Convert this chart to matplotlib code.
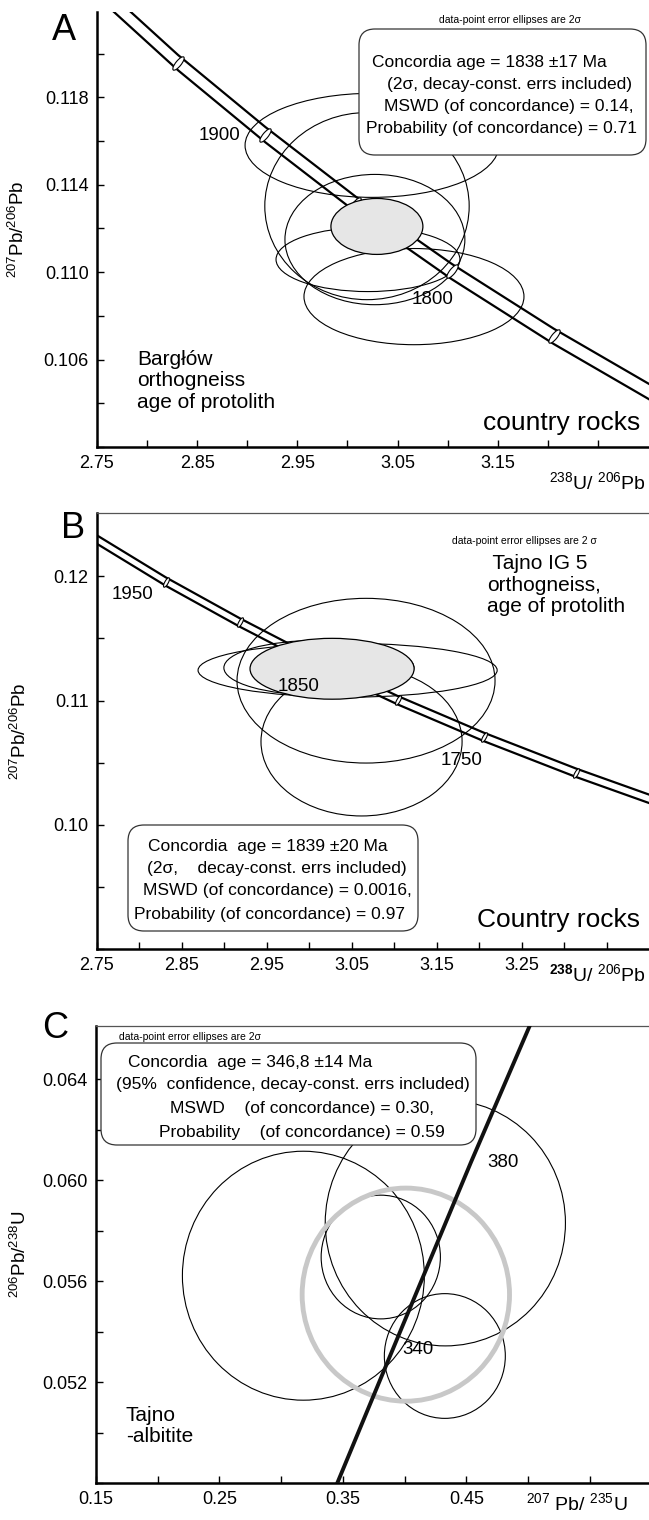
import matplotlib
matplotlib.use("Agg")
import matplotlib.pyplot as plt
from matplotlib.patches import Ellipse, FancyBboxPatch
from matplotlib.markers import MarkerStyle
from matplotlib.path import Path
from matplotlib.transforms import Affine2D

plt.rcParams["font.family"] = ["Liberation Sans", "DejaVu Sans"]
plt.rcParams["mathtext.fontset"] = "custom"
plt.rcParams["mathtext.rm"] = "Liberation Sans"
plt.rcParams["mathtext.it"] = "Liberation Sans:italic"
plt.rcParams["mathtext.bf"] = "Liberation Sans:bold"

# ---------------- A: Bargłów orthogneiss (Tera-Wasserburg) ----------------
a_conc_age = [2000, 1950, 1900, 1850, 1800, 1750, 1700]
a_conc_x = [2.749, 2.831, 2.918, 3.008, 3.104, 3.206, 3.314]
a_conc_y = [0.1230, 0.11958, 0.11629, 0.11311, 0.11003, 0.10706, 0.10419]
a_band = 0.00035
a_marked = [1950, 1900, 1850, 1800, 1750]
a_age_labels = [1900, 1800]
a_label_x = [2.872, 3.085]
a_label_y = [0.11623, 0.10874]

a_ell_x = [3.0245, 3.0195, 3.0274, 3.0205, 3.0664]
a_ell_y = [0.1158, 0.11302, 0.11149, 0.11058, 0.10888]
a_ell_sx = [0.1267, 0.1020, 0.0898, 0.0918, 0.1098]
a_ell_sy = [0.00238, 0.00428, 0.00298, 0.00147, 0.0022]
a_age = (3.0294, 0.11209, 0.0459, 0.00128)

a_xticks = [2.75, 2.80, 2.85, 2.90, 2.95, 3.00, 3.05, 3.10, 3.15, 3.20, 3.25]
a_xticklabels = ["2.75", "", "2.85", "", "2.95", "", "3.05", "", "3.15", "", ""]
a_yticks = [0.102, 0.104, 0.106, 0.108, 0.110, 0.112, 0.114, 0.116, 0.118, 0.120]
a_yticklabels = ["", "", "0.106", "", "0.110", "", "0.114", "", "0.118", ""]

# ---------------- B: Tajno IG 5 orthogneiss (Tera-Wasserburg) ----------------
b_conc_age = [2000, 1950, 1900, 1850, 1800, 1750, 1700, 1650]
b_conc_x = [2.749, 2.831, 2.918, 3.008, 3.104, 3.206, 3.314, 3.428]
b_conc_y = [0.1230, 0.11958, 0.11629, 0.11311, 0.11003, 0.10706, 0.10419, 0.10141]
b_band = 0.00034
b_marked = [1950, 1900, 1850, 1800, 1750, 1700]
b_age_labels = [1950, 1850, 1750]
b_label_x = [2.792, 2.987, 3.179]
b_label_y = [0.1185, 0.1111, 0.1052]

b_ell_x = [3.0668, 3.0615, 3.0451, 3.0113]
b_ell_y = [0.1116, 0.1067, 0.11244, 0.11264]
b_ell_sx = [0.1519, 0.1184, 0.1761, 0.1119]
b_ell_sy = [0.00663, 0.00599, 0.00217, 0.00221]
b_age = (3.0268, 0.11256, 0.0966, 0.00245)

b_xticks = [2.75, 2.80, 2.85, 2.90, 2.95, 3.00, 3.05, 3.10, 3.15, 3.20, 3.25, 3.30, 3.35]
b_xticklabels = ["2.75", "", "2.85", "", "2.95", "", "3.05", "", "3.15", "", "3.25", "", ""]
b_yticks = [0.090, 0.095, 0.100, 0.105, 0.110, 0.115, 0.120]
b_yticklabels = ["", "", "0.10", "", "0.11", "", "0.12"]

# ---------------- C: Tajno albitite (Wetherill) ----------------
c_conc_x = [0.3455, 0.3978, 0.4539, 0.5013]
c_conc_y = [0.0480, 0.05416, 0.06072, 0.0661]
c_age_labels = [340, 380]
c_label_x = [0.411, 0.480]
c_label_y = [0.0533, 0.0607]

c_ell_x = [0.318, 0.433, 0.3807, 0.4326]
c_ell_y = [0.05621, 0.0583, 0.05695, 0.05303]
c_ell_sx = [0.098, 0.0973, 0.0483, 0.049]
c_ell_sy = [0.00493, 0.00487, 0.00245, 0.00247]
c_age = (0.401, 0.05546, 0.084, 0.00422)

c_xticks = [0.15, 0.20, 0.25, 0.30, 0.35, 0.40, 0.45, 0.50, 0.55]
c_xticklabels = ["0.15", "", "0.25", "", "0.35", "", "0.45", "", ""]
c_yticks = [0.048, 0.050, 0.052, 0.054, 0.056, 0.058, 0.060, 0.062, 0.064]
c_yticklabels = ["", "", "0.052", "", "0.056", "", "0.060", "", "0.064"]

W, H = 649, 1520
fig = plt.figure(figsize=(W / 100, H / 100), dpi=100)


def px_axes(left, top, right, bottom):
    return fig.add_axes([left / W, 1 - bottom / H, (right - left) / W, (bottom - top) / H])


def ptext(px, py, s, **kw):
    fig.text(px / W, 1 - py / H, s, **kw)


def style(ax, xt, xl, yt, yl, top_spine):
    ax.set_xticks(xt)
    ax.set_xticklabels(xl)
    ax.set_yticks(yt)
    ax.set_yticklabels(yl)
    ax.tick_params(direction="in", length=5, width=1.0, labelsize=13, pad=6)
    ax.spines["right"].set_visible(False)
    ax.spines["top"].set_visible(top_spine)
    ax.spines["top"].set_linewidth(0.9)
    ax.spines["top"].set_color("#555555")
    for s in ("left", "bottom"):
        ax.spines[s].set_linewidth(1.8)


def draw_ellipses(ax, xs, ys, sxs, sys_):
    for x, y, sx, sy in zip(xs, ys, sxs, sys_):
        ax.add_patch(Ellipse((x, y), 2 * sx, 2 * sy, fill=False, ec="black", lw=0.8, zorder=2))


def draw_band(ax, xs, ys, dy, ages, marked, msize, tilt):
    # two envelope lines of the concordia band plus small age markers across it
    ax.plot(xs, [y + dy for y in ys], color="black", lw=1.6, zorder=3)
    ax.plot(xs, [y - dy for y in ys], color="black", lw=1.6, zorder=3)
    tick = MarkerStyle(Path.unit_circle().transformed(Affine2D().scale(0.33, 1.0).rotate_deg(tilt)))
    mx = [x for a, x in zip(ages, xs) if a in marked]
    my = [y for a, y in zip(ages, ys) if a in marked]
    ax.plot(mx, my, ls="none", marker=tick, markersize=msize, mfc="white", mec="black",
            mew=0.8, zorder=4)


def rbox(ax, left, top, right, bottom):
    box = FancyBboxPatch((left / 100, (H - bottom) / 100), (right - left) / 100, (bottom - top) / 100,
                         boxstyle="round,pad=0,rounding_size=0.16", transform=fig.dpi_scale_trans,
                         fc="white", ec="#333333", lw=0.9, zorder=6, clip_on=False)
    ax.add_patch(box)


# ----- panel A -----
axA = px_axes(97, 12, 649, 447)
axA.set_xlim(2.75, 3.301)
axA.set_ylim(0.102, 0.1219)
style(axA, a_xticks, a_xticklabels, a_yticks, a_yticklabels, False)
draw_ellipses(axA, a_ell_x, a_ell_y, a_ell_sx, a_ell_sy)
draw_band(axA, a_conc_x, a_conc_y, a_band, a_conc_age, a_marked, 10, -39)
axA.add_patch(Ellipse(a_age[:2], 2 * a_age[2], 2 * a_age[3], fc="#e6e6e6", ec="black", lw=0.9, zorder=5))
for lab, x, y in zip(a_age_labels, a_label_x, a_label_y):
    axA.text(x, y, str(lab), fontsize=13.5, ha="center", va="center", zorder=7)
rbox(axA, 359, 29, 646, 155)
ptext(510, 20, "data-point error ellipses are 2σ", fontsize=7.5, ha="center", va="center")
ptext(489, 62, "Concordia age = 1838 ±17 Ma", fontsize=12.5, ha="center", va="center", zorder=8)
ptext(510, 84, "(2σ, decay-const. errs included)", fontsize=12.5, ha="center", va="center", zorder=8)
ptext(509, 106, "MSWD (of concordance) = 0.14,", fontsize=12.5, ha="center", va="center", zorder=8)
ptext(502, 129, "Probability (of concordance) = 0.71", fontsize=12.5, ha="center", va="center", zorder=8)
ptext(137, 381, "Bargłów\northogneiss\nage of protolith", fontsize=15, ha="left", va="center",
      linespacing=1.15)
ptext(640, 423, "country rocks", fontsize=19, ha="right", va="center")
ptext(64, 31, "A", fontsize=26, ha="center", va="center")
ptext(18, 229, "$^{207}$Pb/$^{206}$Pb", fontsize=13.5, rotation=90, ha="center", va="center")
ptext(646, 482, "$^{238}$U/ $^{206}$Pb", fontsize=14, ha="right", va="center")

# ----- panel B -----
axB = px_axes(97, 513, 649, 949)
axB.set_xlim(2.75, 3.40)
axB.set_ylim(0.09, 0.1251)
style(axB, b_xticks, b_xticklabels, b_yticks, b_yticklabels, True)
draw_ellipses(axB, b_ell_x, b_ell_y, b_ell_sx, b_ell_sy)
draw_band(axB, b_conc_x, b_conc_y, b_band, b_conc_age, b_marked, 7, -29)
axB.add_patch(Ellipse(b_age[:2], 2 * b_age[2], 2 * b_age[3], fc="#e6e6e6", ec="black", lw=0.9, zorder=5))
for lab, x, y in zip(b_age_labels, b_label_x, b_label_y):
    axB.text(x, y, str(lab), fontsize=13.5, ha="center", va="center", zorder=7)
ptext(524, 541, "data-point error ellipses are 2 σ", fontsize=7.5, ha="center", va="center")
ptext(487, 585, " Tajno IG 5\northogneiss,\nage of protolith", fontsize=15, ha="left", va="center",
      linespacing=1.15)
rbox(axB, 128, 825, 418, 931)
ptext(268, 846, "Concordia  age = 1839 ±20 Ma", fontsize=12.5, ha="center", va="center", zorder=8)
ptext(277, 868, "(2σ,    decay-const. errs included)", fontsize=12.5, ha="center", va="center", zorder=8)
ptext(277, 891, "MSWD (of concordance) = 0.0016,", fontsize=12.5, ha="center", va="center", zorder=8)
ptext(269, 914, "Probability (of concordance) = 0.97", fontsize=12.5, ha="center", va="center", zorder=8)
ptext(640, 920, "Country rocks", fontsize=19, ha="right", va="center")
ptext(73, 528, "B", fontsize=26, ha="center", va="center")
ptext(20, 731, "$^{207}$Pb/$^{206}$Pb", fontsize=13.5, rotation=90, ha="center", va="center")
ptext(646, 974, r"$^{\mathbf{238}}$U/ $^{206}$Pb", fontsize=14, ha="right", va="center")

# ----- panel C -----
axC = px_axes(96, 1026, 649, 1483)
axC.set_xlim(0.15, 0.598)
axC.set_ylim(0.048, 0.0661)
style(axC, c_xticks, c_xticklabels, c_yticks, c_yticklabels, True)
draw_ellipses(axC, c_ell_x, c_ell_y, c_ell_sx, c_ell_sy)
axC.add_patch(Ellipse(c_age[:2], 2 * c_age[2], 2 * c_age[3], fill=False, ec="#c8c8c8", lw=3.5, zorder=3))
axC.plot(c_conc_x, c_conc_y, color="#111111", lw=2.8, zorder=4)
for lab, x, y in zip(c_age_labels, c_label_x, c_label_y):
    axC.text(x, y, str(lab), fontsize=13.5, ha="center", va="center", zorder=7)
ptext(119, 1037, "data-point error ellipses are 2σ", fontsize=7.5, ha="left", va="center")
rbox(axC, 101, 1043, 476, 1145)
ptext(250, 1063, "Concordia  age = 346,8 ±14 Ma", fontsize=12.5, ha="center", va="center", zorder=8)
ptext(293, 1084, "(95%  confidence, decay-const. errs included)", fontsize=12.5, ha="center",
      va="center", zorder=8)
ptext(302, 1108, "MSWD    (of concordance) = 0.30,", fontsize=12.5, ha="center", va="center", zorder=8)
ptext(302, 1132, "Probability    (of concordance) = 0.59", fontsize=12.5, ha="center", va="center", zorder=8)
ptext(126, 1426, "Tajno\n-albitite", fontsize=15, ha="left", va="center", linespacing=1.15)
ptext(55, 1028, "C", fontsize=26, ha="center", va="center")
ptext(20, 1254, "$^{206}$Pb/$^{238}$U", fontsize=13.5, rotation=90, ha="center", va="center")
ptext(628, 1503, "$^{207}$ Pb/ $^{235}$U", fontsize=14, ha="right", va="center")

fig.savefig("out.png", dpi=100)
